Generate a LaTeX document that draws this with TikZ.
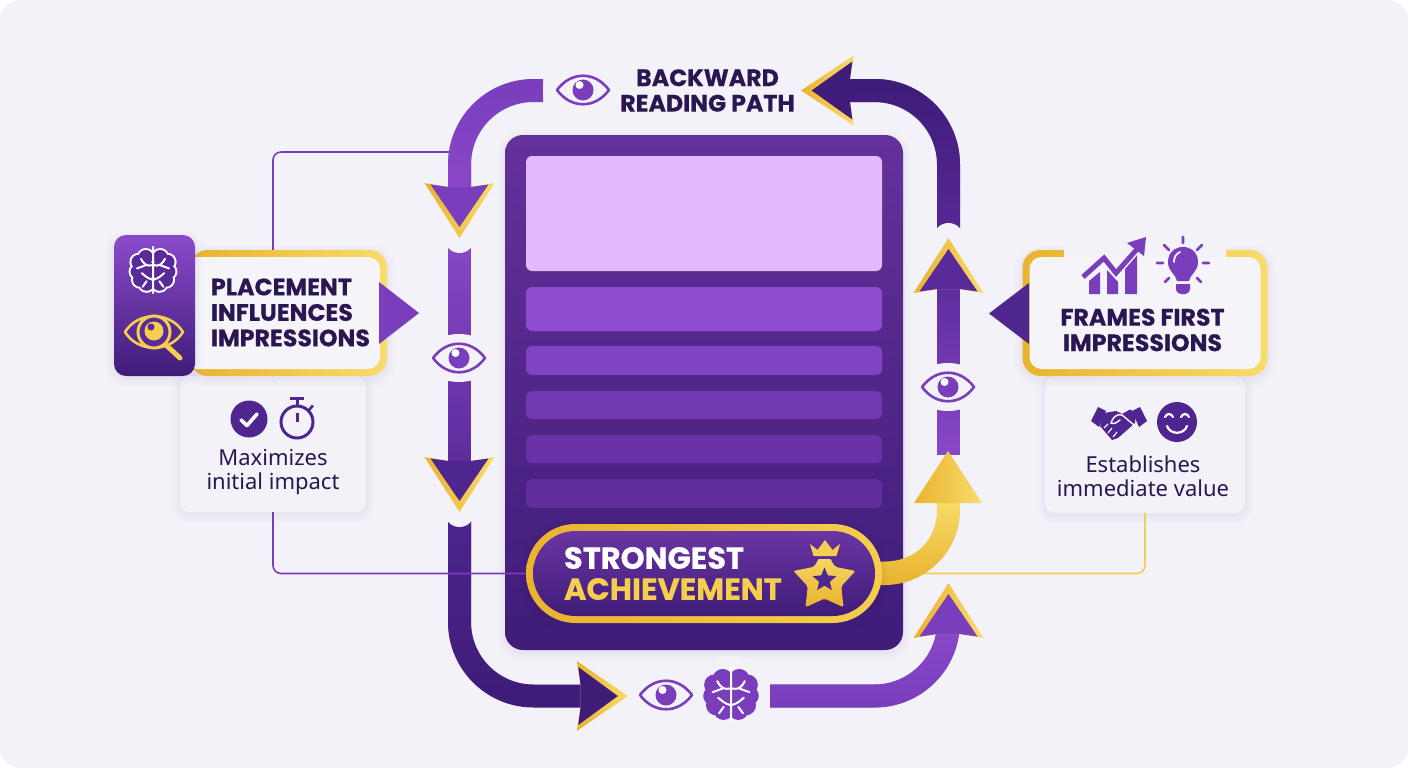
\documentclass[tikz,border=0pt]{standalone}
\usepackage{fontspec}
\usetikzlibrary{shapes.geometric,fadings}
\newfontfamily\pop{Poppins}[BoldFeatures={FakeBold=0.5}]
\newfontfamily\bodyf{Noto Sans}
\definecolor{bgc}{HTML}{F3F2F8}
\definecolor{cardc}{HTML}{F5F4F9}
\definecolor{ink}{HTML}{2A1650}
\definecolor{pA}{HTML}{8C4ACB}
\definecolor{pB}{HTML}{7A3EBD}
\definecolor{pC}{HTML}{5B2A9A}
\definecolor{pD}{HTML}{4F2590}
\definecolor{pE}{HTML}{3F1C78}
\definecolor{gA}{HTML}{E9B32E}
\definecolor{gB}{HTML}{F8DC6B}
\definecolor{gC}{HTML}{F5CE4F}
\definecolor{panelT}{HTML}{64319A}
\definecolor{lightp}{HTML}{E3B9FE}
\definecolor{barA}{HTML}{8E4BCF}
\definecolor{barB}{HTML}{8043C2}
\definecolor{barC}{HTML}{7238B0}
\definecolor{barD}{HTML}{6832A6}
\definecolor{barE}{HTML}{5F2D9C}
\definecolor{pillT}{HTML}{6B35A3}
\newcommand\ribbon[4]{%
  \draw[ribbonline,#1] #4;
  \draw[ribbonline,#2,path fading=#3] #4;}
\tikzset{
  x=1pt,y=-1pt,
  block/.style={inner sep=0pt,outer sep=0pt},
  softshadow/.style={
    preaction={draw=pE,draw opacity=.012,line width=16pt,transform canvas={yshift=-3pt}},
    preaction={draw=pE,draw opacity=.015,line width=10pt,transform canvas={yshift=-3pt}},
    preaction={draw=pE,draw opacity=.02,line width=5pt,transform canvas={yshift=-2pt}}},
  ribbonline/.style={line width=23pt,rounded corners=74pt},
  thinline/.style={line width=1.6pt,rounded corners=8pt},
  halo/.style={fill=bgc},
  pagebar/.style={block,minimum width=356pt,rounded corners=6pt},
  headtext/.style={block,text=ink,font=\pop\bfseries\fontsize{23.7}{25.5}\selectfont},
  subtext/.style={block,text=ink,font=\bodyf\fontsize{22}{24}\selectfont,align=center},
  pilltext/.style={block,anchor=west,font=\pop\bfseries\fontsize{30.5}{31}\selectfont},
  pics/headicon/.style={code={
    \shade[left color=gA,right color=gB] (-35,-55) -- (-11,-51) -- (11,-51) -- (35,-55) -- (0,0) -- cycle;
    \fill[#1] (-29,-53.5) -- (-11,-51) -- (11,-51) -- (29,-53.5) -- (0,-11) -- cycle;}},
  pics/eyeicon/.style={code={
    \draw[pB,line width=2.6pt,line join=round] (-26,0) .. controls (-12,-19) and (12,-19) .. (26,0) .. controls (12,19) and (-12,19) .. (-26,0) -- cycle;
    \fill[pB] (0,0) circle[radius=10.5];
    \fill[white] (-3.5,-5) circle[radius=4];
    }},
  pics/brainicon/.style n args={3}{code={
    \draw[#1,line width=4pt]
      (-9,-16) circle[radius=9] (-18,-10) circle[radius=9] (-20,2) circle[radius=8] (-16,12) circle[radius=9] (-8,17) circle[radius=9] (-9,0) circle[radius=12]
      (9,-16) circle[radius=9] (18,-10) circle[radius=9] (20,2) circle[radius=8] (16,12) circle[radius=9] (8,17) circle[radius=9] (9,0) circle[radius=12];
    \fill[#2]
      (-9,-16) circle[radius=9] (-18,-10) circle[radius=9] (-20,2) circle[radius=8] (-16,12) circle[radius=9] (-8,17) circle[radius=9] (-9,0) circle[radius=12]
      (9,-16) circle[radius=9] (18,-10) circle[radius=9] (20,2) circle[radius=8] (16,12) circle[radius=9] (8,17) circle[radius=9] (9,0) circle[radius=12];
    \draw[#3,line width=2pt,line cap=round]
      (0,-29) -- (0,29)
      (-1,-6) .. controls (-8,-4) and (-12,-8) .. (-15,-14)
      (-9,-6) -- (-20,-2)
      (1,-6) .. controls (8,-4) and (12,-8) .. (15,-14)
      (9,-6) -- (20,-2)
      (-1,12) .. controls (-8,10) and (-10,7) .. (-14,4)
      (-8,14) -- (-13,21)
      (1,12) .. controls (8,10) and (10,7) .. (14,4)
      (8,14) -- (13,21);}},
}
\begin{document}
\begin{tikzpicture}
\useasboundingbox (0,0) rectangle (1408,768);
\fill[white] (0,0) rectangle (1408,768);
\node[block,minimum width=1408pt,minimum height=768pt,rounded corners=20pt,fill=bgc] (bg) at (704,384) {};

% anchors of the reading path
\coordinate (ra) at (543,90.5);
\coordinate (rb) at (459.5,90.5);
\coordinate (rc) at (459.5,195);
\coordinate (rd) at (459.5,235);
\coordinate (re) at (459.5,470);
\coordinate (rf) at (459.5,510);
\coordinate (rg) at (459.5,696);
\coordinate (rh) at (590,696);
\coordinate (ri) at (770,696);
\coordinate (rj) at (948.5,696);
\coordinate (rk) at (948.5,625);
\coordinate (rl) at (948.5,455);
\coordinate (rm) at (948.5,280);
\coordinate (rn) at (948.5,240);
\coordinate (ro) at (948.5,90.5);
\coordinate (rp) at (840,90.5);

% central page
\node[block,minimum width=398pt,minimum height=515pt,rounded corners=18pt,top color=panelT,bottom color=pE,softshadow] (panel) at (704,392.5) {};
\node[pagebar,minimum height=115pt,fill=lightp] (hero) at (704,213.5) {};
\node[pagebar,minimum height=44pt,fill=barA] (bar1) at (704,309) {};
\node[pagebar,minimum height=29pt,fill=barB] (bar2) at (704,360.5) {};
\node[pagebar,minimum height=28pt,fill=barC] (bar3) at (704,405) {};
\node[pagebar,minimum height=28pt,fill=barD] (bar4) at (704,449) {};
\node[pagebar,minimum height=29pt,fill=barE] (bar5) at (704,493.5) {};

% ribbons
\ribbon{pB}{pA}{north}{(rc) -- (rb) -- (ra)}
\ribbon{pC}{pA}{south}{(rd) -- (re)}
\ribbon{pE}{pD}{south}{(rf) -- (rg) -- (rh)}
\ribbon{pA}{pB}{north}{(ri) -- (rj) -- (rk)}
\ribbon{pA}{pC}{south}{(rl) -- (rm)}
\ribbon{pC}{pE}{south}{(rn) -- (ro) -- (rp)}

% halos where the path is interrupted
\fill[halo] (459.5,238) circle[radius=15];
\fill[halo] (459.5,512) circle[radius=15];
\fill[halo] (948.5,238) circle[radius=15];
\fill[halo] (583,90) circle[radius=40];
\fill[halo] (731,695) circle[radius=39];
\fill[halo] (459,358) ellipse[x radius=34,y radius=24];
\fill[halo] (948,387) ellipse[x radius=34,y radius=24];

% sub cards
\node[block,minimum width=186pt,minimum height=136pt,rounded corners=10pt,fill=bgc,softshadow] (lsub) at (273,444) {};
\node[block,minimum width=200pt,minimum height=137pt,rounded corners=10pt,fill=bgc,softshadow] (rsub) at (1145,444.5) {};

% thin connectors
\coordinate (lhit) at (449,152);
\coordinate (lpill) at (526,573.5);
\coordinate (rpill) at (880,573.5);
\draw[thinline,pB] (lsub.north) |- (lhit);
\draw[thinline,pB] (lsub.south) |- (lpill);
\draw[thinline,gC] (rsub.south) |- (rpill);

% gold arrow
\shade[bottom color=gA,top color=gB] (880,561.5) -- (885,561.5) .. controls (915,561.5) and (937,540) .. (937,510) -- (937,498) -- (960,498) -- (960,510) .. controls (960,552) and (925,585) .. (885,585) -- (880,585) -- cycle;

% arrow heads
\pic at (459.5,238) {headicon=pB};
\pic at (459.5,512) {headicon=pD};
\pic[rotate=90,yscale=.93] at (628,696) {headicon=pE};
\pic[rotate=180] at (948.5,583) {headicon=pB};
\pic[rotate=180] at (948.5,238) {headicon=pC};
\pic[rotate=-90,yscale=.96] at (801,90.5) {headicon=pE};
\shade[left color=gA,right color=gB] (914,503) -- (948,451) -- (982,503) -- cycle;

% strongest achievement pill
\node[block,minimum width=356pt,minimum height=99pt,rounded corners=49.5pt,left color=gA,right color=gC,softshadow] (pill) at (704,573.5) {};
\node[block,minimum width=342pt,minimum height=85pt,rounded corners=42.5pt,top color=pillT,bottom color=pE] (pillin) at (704,573.5) {};
\node[pilltext,text=white] (t1) at (564,558) {STRONGEST};
\node[pilltext,text=gC] (t2) at (564,589) {ACHIEVEMENT};
\node[star,star points=5,star point ratio=1.85,minimum size=65pt,block,top color=gB,bottom color=gA,rounded corners=2pt] (starbig) at (824.5,581) {};
\node[star,star points=5,star point ratio=2.2,minimum size=25pt,block,fill=pD] (starin) at (824.5,580) {};
\fill[pC] (808,556) rectangle (841,558.5);
\fill[gC] (810,544) -- (817.5,550) -- (825,540) -- (832.5,550) -- (840,544) -- (836.5,556) -- (813.5,556) -- cycle;

% top label and icons on the path
\node[headtext,align=center] (title) at (707.5,90.5) {BACKWARD\\READING PATH};
\pic at (583,90) {eyeicon};
\pic at (459,358) {eyeicon};
\pic at (948,387) {eyeicon};
\pic at (666,695) {eyeicon};
\pic[scale=.92] at (731,694) {brainicon={pB}{pB}{white}};

% left card
\node[block,minimum width=197pt,minimum height=126pt,rounded corners=18pt,left color=gA,right color=gB,softshadow] (lcard) at (288.5,313) {};
\node[block,minimum width=195pt,minimum height=112pt,rounded corners=12pt,fill=cardc] (lcardin) at (282.5,313) {};
\fill[pB] (379,282) -- (419,313) -- (379,344) -- cycle;
\node[block,minimum width=81pt,minimum height=141pt,rounded corners=12pt,top color=pA,bottom color=pE,softshadow] (tab) at (154.5,305.5) {};
\node[headtext,anchor=west,align=left] (ltext) at (211,312.5) {PLACEMENT\\INFLUENCES\\IMPRESSIONS};
\pic[scale=.8] at (153,270) {brainicon={white}{pC}{white}};
% gold eye with magnifier
\draw[gC,line width=2.6pt,line join=round] (125,332) .. controls (138,311) and (170,311) .. (183,332) .. controls (170,353) and (138,353) .. (125,332) -- cycle;
\draw[gC,line width=5pt,line cap=round] (166,345) -- (180,358);
\filldraw[draw=gC,fill=pC,line width=3pt] (154,332) circle[radius=16];
\fill[gC] (154,331) circle[radius=9.5];
\fill[pC] (151,327) circle[radius=3.5];
% left sub card content
\fill[pD] (249,419) circle[radius=18.5];
\draw[white,line width=3.6pt,line cap=round,line join=round] (241,420) -- (247,425.5) -- (257,414);
\draw[pD,line width=3pt] (297,422) circle[radius=16];
\draw[pD,line width=3pt] (290,398.5) -- (304,398.5) (297,398.5) -- (297,406);
\draw[pD,line width=2.6pt] (309,410) -- (313,405.5);
\draw[pD,line width=3pt] (297,413) -- (297,422);
\node[subtext] (ltext2) at (273,472) {Maximizes\\initial impact};

% right card
\node[block,minimum width=245pt,minimum height=126pt,rounded corners=18pt,left color=gA,right color=gB,softshadow] (rcard) at (1145,313) {};
\node[block,minimum width=231pt,minimum height=112pt,rounded corners=12pt,fill=cardc] (rcardin) at (1145,313) {};
\fill[bgc] (1064,245) rectangle (1226,258);
\fill[pD] (1029,283) -- (989,313.5) -- (1029,344) -- cycle;
\node[headtext,align=center] (rtext) at (1142.5,330) {FRAMES FIRST\\IMPRESSIONS};
% chart icon
\fill[pB] (1089,294) -- (1089,281) -- (1100,272) -- (1100,294) -- cycle;
\fill[pB] (1107,294) -- (1107,270) -- (1118,282) -- (1118,294) -- cycle;
\fill[pB] (1125,294) -- (1125,266) -- (1137,253) -- (1137,294) -- cycle;
\draw[cardc,line width=8pt,line join=miter] (1083,277) -- (1104,258) -- (1116,273) -- (1138,248);
\draw[pB,line width=5pt,line join=miter] (1083,277) -- (1104,258) -- (1116,273) -- (1138,248);
\fill[pB] (1127,243) -- (1146,237) -- (1144,256) -- cycle;
% bulb icon
\fill[pB] (1177,281) .. controls (1176,274) and (1168,272) .. (1168,262) .. controls (1168,242) and (1198,242) .. (1198,262) .. controls (1198,272) and (1190,274) .. (1189,281) -- cycle;
\fill[pB] (1176,284) -- (1190,284) -- (1190,289) .. controls (1190,296) and (1176,296) .. (1176,289) -- cycle;
\draw[cardc,line width=1.8pt,line cap=round] (1174,262) .. controls (1174,257) and (1176,254) .. (1180,252);
\draw[pB,line width=2.6pt,line cap=round]
  (1183,237) -- (1183,243) (1164,245) -- (1169,250) (1202,245) -- (1197,250)
  (1157,263) -- (1163,263) (1203,263) -- (1209,263) (1165,282) -- (1169,278) (1201,282) -- (1197,278);
% right sub card content
\fill[pD] (1091,421) -- (1098,407) -- (1106,411) -- (1099,427) -- cycle;
\fill[pD] (1147,421) -- (1140,407) -- (1132,411) -- (1139,427) -- cycle;
\fill[pD] (1104,413) -- (1116,411) -- (1122,414) -- (1130,409.5) -- (1136,413) -- (1135,423) -- (1118,438) -- (1112,440) -- (1100,426) -- cycle;
\draw[bgc,line width=1.5pt,line cap=round] (1134,425) -- (1122,415) .. controls (1116,413) and (1112,419) .. (1111,423) .. controls (1115,425) and (1118,421) .. (1120,420);
\draw[bgc,line width=1.2pt] (1104,428) -- (1108,424) (1108,433) -- (1112,428) (1113,437) -- (1117,432);
\fill[pD] (1177,422) circle[radius=20];
\draw[white,line width=2.2pt,line cap=round] (1165,417) .. controls (1167,413) and (1171,413) .. (1173,417) (1181,417) .. controls (1183,413) and (1187,413) .. (1189,417);
\draw[white,line width=2.2pt,line cap=round] (1167,426) .. controls (1170,435) and (1184,435) .. (1187,426);
\node[subtext] (rtext2) at (1143,476) {Establishes\\immediate value};
\end{tikzpicture}
\end{document}
